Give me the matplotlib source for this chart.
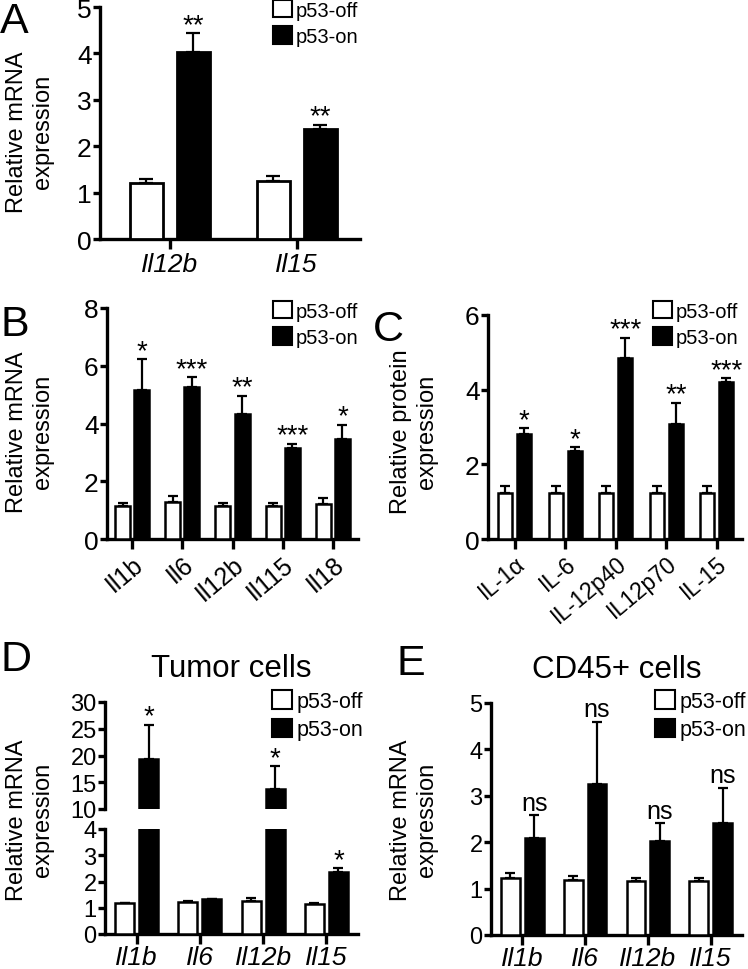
import numpy as np
import matplotlib
matplotlib.use("Agg")
import matplotlib.pyplot as plt
from matplotlib.patches import Patch

plt.rcParams['font.family'] = ['Liberation Sans', 'DejaVu Sans']
plt.rcParams['axes.linewidth'] = 2.4

# Panel A
a_genes = ['Il12b', 'Il15']
a_off = [1.20, 1.24]
a_off_err = [0.09, 0.12]
a_on = [4.02, 2.37]
a_on_err = [0.41, 0.09]
a_sig = ['**', '**']

# Panel B
b_genes = ['Il1b', 'Il6', 'Il12b', 'Il115', 'Il18']
b_off = [1.13, 1.29, 1.15, 1.13, 1.22]
b_off_err = [0.12, 0.21, 0.10, 0.12, 0.19]
b_on = [5.17, 5.27, 4.33, 3.15, 3.46]
b_on_err = [1.06, 0.33, 0.63, 0.14, 0.49]
b_sig = ['*', '***', '**', '***', '*']

# Panel C
c_prot = ['IL-1α', 'IL-6', 'IL-12p40', 'IL12p70', 'IL-15']
c_off = [1.23, 1.23, 1.23, 1.23, 1.23]
c_off_err = [0.18, 0.18, 0.18, 0.18, 0.18]
c_on = [2.82, 2.35, 4.86, 3.07, 4.21]
c_on_err = [0.15, 0.11, 0.53, 0.58, 0.10]
c_sig = ['*', '*', '***', '**', '***']

# Panel D (tumor cells, broken axis)
d_genes = ['Il1b', 'Il6', 'Il12b', 'Il15']
d_off = [1.17, 1.23, 1.27, 1.14]
d_off_err = [0.0, 0.03, 0.09, 0.03]
d_on = [19.3, 1.32, 13.8, 2.37]
d_on_err = [6.4, 0.0, 4.2, 0.13]
d_sig = ['*', '', '*', '*']

# Panel E (CD45+ cells)
e_genes = ['Il1b', 'Il6', 'Il12b', 'Il15']
e_off = [1.22, 1.19, 1.17, 1.17]
e_off_err = [0.11, 0.08, 0.05, 0.05]
e_on = [2.09, 3.26, 2.03, 2.41]
e_on_err = [0.49, 1.34, 0.38, 0.76]
e_sig = ['ns', 'ns', 'ns', 'ns']

W, H = 748, 970
fig = plt.figure(figsize=(W / 100, H / 100), dpi=100)


def box(x0, y0, x1, y1):
    # pixel box -> figure fraction rect
    return [x0 / W, 1 - y1 / H, (x1 - x0) / W, (y1 - y0) / H]


def bars(ax, off, off_err, on, on_err, width=0.3, off_dx=0.19, lw=1.8, cap=3.5):
    x = np.arange(len(off))
    ax.bar(x - off_dx, off, width, color='white', edgecolor='black', linewidth=lw, zorder=3)
    ax.bar(x + off_dx, on, width, color='black', edgecolor='black', linewidth=lw, zorder=3)
    z = np.zeros(len(off))
    ax.errorbar(x - off_dx, off, yerr=[z, off_err], fmt='none', ecolor='black',
                elinewidth=1.6, capsize=cap, capthick=1.6, zorder=2)
    ax.errorbar(x + off_dx, on, yerr=[z, on_err], fmt='none', ecolor='black',
                elinewidth=1.6, capsize=cap, capthick=1.6, zorder=2)
    return x


def style(ax, ysize):
    ax.spines['top'].set_visible(False)
    ax.spines['right'].set_visible(False)
    ax.tick_params(axis='y', direction='out', length=5, width=2.4, labelsize=ysize, pad=1)
    ax.tick_params(axis='x', direction='out', length=7, width=2.4, pad=2)


def sig(ax, xs, tops, labels, size=20, dy=1):
    for x, t, s in zip(xs, tops, labels):
        if s:
            ax.annotate(s, (x, t), xytext=(0, dy), textcoords='offset points',
                        ha='center', va='baseline', fontsize=size)


def legend(x, y, size=14.5):
    handles = [Patch(facecolor='white', edgecolor='black', linewidth=1.5, label='p53-off'),
               Patch(facecolor='black', edgecolor='black', linewidth=1.5, label='p53-on')]
    fig.legend(handles=handles, loc='upper left', bbox_to_anchor=(x / W, 1 - y / H),
               frameon=False, fontsize=size, handlelength=0.95, handleheight=0.95,
               handletextpad=0.2, labelspacing=0.33, borderpad=0, borderaxespad=0)


def ylab(x, y, text, size=17):
    fig.text(x / W, 1 - y / H, text, rotation=90, ha='center', va='center',
             fontsize=size, linespacing=1.2)


# ---- A ----
ax = fig.add_axes(box(100, 8, 360, 240))
x = bars(ax, a_off, a_off_err, a_on, a_on_err, width=0.26, off_dx=0.185, lw=2.0, cap=5)
sig(ax, x + 0.185, np.add(a_on, a_on_err), a_sig)
ax.set_xlim(-0.55, 1.5)
ax.set_ylim(0, 5)
ax.set_yticks([0, 1, 2, 3, 4, 5])
ax.set_xticks(x)
ax.set_xticklabels(a_genes, fontsize=19, style='italic')
style(ax, 19)
legend(273, 1)
ylab(30, 132, 'Relative mRNA\nexpression')

# ---- B ----
ax = fig.add_axes(box(107, 309, 358, 540))
x = bars(ax, b_off, b_off_err, b_on, b_on_err)
sig(ax, x + 0.19, np.add(b_on, b_on_err), b_sig)
ax.set_xlim(-0.5, 4.5)
ax.set_ylim(0, 8)
ax.set_yticks([0, 2, 4, 6, 8])
ax.set_xticks(x)
ax.set_xticklabels(b_genes, fontsize=18, rotation=40, ha='right', rotation_mode='anchor')
style(ax, 19)
legend(273, 302)
ylab(30, 432, 'Relative mRNA\nexpression')

# ---- C ----
ax = fig.add_axes(box(488, 316, 742, 540))
x = bars(ax, c_off, c_off_err, c_on, c_on_err, width=0.28)
sig(ax, x + 0.19, np.add(c_on, c_on_err), c_sig)
ax.set_xlim(-0.53, 4.5)
ax.set_ylim(0, 6)
ax.set_yticks([0, 2, 4, 6])
ax.set_xticks(x)
ax.set_xticklabels(c_prot, fontsize=16.5, rotation=40, ha='right', rotation_mode='anchor')
style(ax, 19)
legend(653, 302)
ylab(414, 432, 'Relative protein\nexpression')

# ---- D (broken axis) ----
ax_hi = fig.add_axes(box(105, 703, 358, 810))
ax_lo = fig.add_axes(box(105, 830, 358, 935))
for a in (ax_hi, ax_lo):
    x = bars(a, d_off, d_off_err, d_on, d_on_err)
    a.set_xlim(-0.5, 3.5)
    style(a, 17)
ax_hi.set_ylim(10, 30)
ax_hi.set_yticks([10, 15, 20, 25, 30])
ax_hi.spines['bottom'].set_visible(False)
ax_hi.set_xticks([])
ax_lo.set_ylim(0, 4)
ax_lo.set_yticks([0, 1, 2, 3, 4])
ax_lo.set_xticks(x)
ax_lo.set_xticklabels(d_genes, fontsize=19, style='italic')
ax_lo.tick_params(axis='x', pad=1)
d_top = np.add(d_on, d_on_err)
for xi, t, s in zip(x, d_top, d_sig):
    target = ax_hi if t > 4 else ax_lo
    sig(target, [xi + 0.19], [t], [s])
ax_hi.set_title('Tumor cells', fontsize=22.5, pad=19)
legend(272, 691, size=15.5)
ylab(30, 820, 'Relative mRNA\nexpression')

# ---- E ----
ax = fig.add_axes(box(491, 704, 742, 936))
x = bars(ax, e_off, e_off_err, e_on, e_on_err)
sig(ax, x + 0.19, np.add(e_on, e_on_err), e_sig, size=18, dy=4)
ax.set_xlim(-0.5, 3.5)
ax.set_ylim(0, 5)
ax.set_yticks([0, 1, 2, 3, 4, 5])
ax.set_xticks(x)
ax.set_xticklabels(e_genes, fontsize=19, style='italic')
style(ax, 17)
ax.tick_params(axis='x', pad=1)
ax.set_title('CD45+ cells', fontsize=22.5, pad=19)
legend(655, 691, size=15.5)
ylab(414, 820, 'Relative mRNA\nexpression')

# panel letters
for letter, px, py in [('A', 0, 22), ('B', 0, 325), ('C', 373, 330), ('D', 0, 660), ('E', 396, 664)]:
    fig.text(px / W, 1 - py / H, letter, fontsize=31, ha='left', va='center')

fig.savefig('out.png', dpi=100)
